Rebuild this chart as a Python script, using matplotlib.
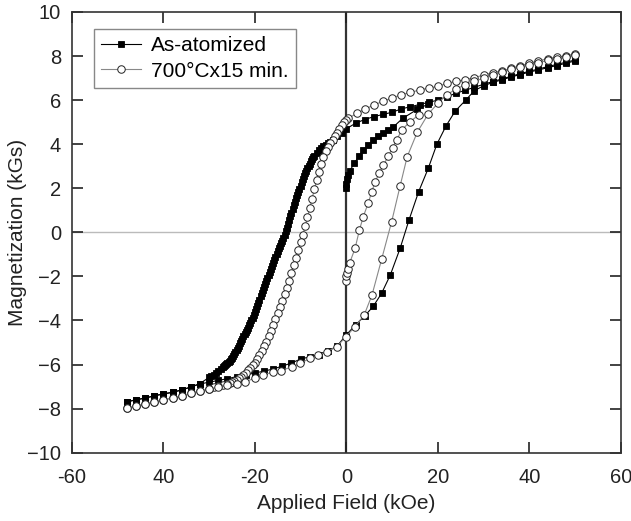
import matplotlib
matplotlib.use("Agg")
import matplotlib.pyplot as plt

plt.rcParams['font.family'] = ['Liberation Sans', 'DejaVu Sans']

# ---------------- As-atomized (filled squares) ----------------
sq_virgin_x = [0, 0, 0.2, 0.4, 0.8, 1.7, 2.8, 3.7, 4.8, 5.9, 7.0, 8.1, 9.2, 10.2, 12.3, 15.5, 17.9]
sq_virgin_y = [2.0, 2.2, 2.4, 2.6, 2.8, 3.13, 3.46, 3.74, 3.96, 4.19, 4.37, 4.52, 4.64, 4.77, 5.17, 5.58, 5.82]

sq_desc_x = [50, 48, 46, 44, 42, 40, 38, 36, 34, 32, 30, 28, 26, 24, 22, 20, 18, 16, 14, 12, 10, 8, 6, 4, 2, 0,
             -1, -2, -3, -3.5, -4, -4.5, -5, -5.5, -6, -6.5,
             -7, -7.25, -7.5, -7.75, -8, -8.25, -8.5, -8.75, -9, -9.25, -9.5, -9.75,
             -10, -10.25, -10.5, -10.75, -11, -11.25, -11.5, -11.75, -12, -12.25, -12.5, -12.75,
             -13, -13.25, -13.5, -13.75, -14, -14.25, -14.5, -14.75, -15, -15.25, -15.5, -15.75,
             -16, -16.25, -16.5, -16.75, -17, -17.25, -17.5, -17.75, -18, -18.25, -18.5, -18.75,
             -19, -19.25, -19.5, -19.75, -20, -20.25, -20.5, -20.75, -21, -21.25, -21.5, -21.75,
             -22, -22.25, -22.5, -22.75, -23, -23.25, -23.5, -23.75, -24, -24.25, -24.5, -24.75,
             -25, -25.25, -25.5, -25.75, -26, -26.25, -26.5, -26.75, -27,
             -27.5, -28, -28.5, -29, -29.5, -30, -32, -34, -36, -38, -40, -42, -44, -46, -48]
sq_desc_y = [7.82, 7.72, 7.62, 7.52, 7.41, 7.31, 7.2, 7.08, 6.96, 6.84, 6.72, 6.58, 6.45, 6.31, 6.16, 6.0, 5.9,
             5.8, 5.7, 5.6, 5.45, 5.35, 5.25, 5.12, 4.95, 4.7,
             4.5, 4.35, 4.2, 4.12, 4.05, 3.97, 3.9, 3.83, 3.75, 3.62,
             3.48, 3.40, 3.31, 3.22, 3.12, 3.02, 2.92, 2.80, 2.68, 2.55, 2.41, 2.27,
             2.12, 1.98, 1.84, 1.70, 1.55, 1.39, 1.23, 1.07, 0.9, 0.73, 0.55, 0.38,
             0.2, 0.05, -0.1, -0.24, -0.38, -0.49, -0.6, -0.72, -0.85, -0.98, -1.12, -1.26,
             -1.4, -1.54, -1.68, -1.82, -1.95, -2.08, -2.22, -2.36, -2.5, -2.63, -2.77, -2.91,
             -3.05, -3.19, -3.33, -3.48, -3.62, -3.75, -3.88, -4.0, -4.12, -4.22, -4.32, -4.42,
             -4.52, -4.62, -4.72, -4.82, -4.93, -5.03, -5.14, -5.24, -5.34, -5.44, -5.53, -5.62,
             -5.7, -5.76, -5.82, -5.88, -5.93, -5.98, -6.03, -6.08, -6.12,
             -6.21, -6.3, -6.39, -6.47, -6.53, -6.58, -6.86, -7.02, -7.15, -7.26, -7.33, -7.42, -7.52,
             -7.6, -7.69]

sq_asc_x = [-48, -46, -44, -42, -40, -38, -36, -34, -32, -30, -28, -26, -24, -22, -20, -18, -16, -14, -12,
            -10, -8, -6, -4, -2, 0, 2, 4, 5.9, 7.7, 9.6, 11.75, 13.7, 15.8, 17.9, 19.8, 21.8, 23.8, 26.1,
            28.0, 30, 32, 34, 36, 38, 40, 42, 44, 46, 48, 50]
sq_asc_y = [-7.69, -7.6, -7.52, -7.42, -7.33, -7.26, -7.15, -7.02, -6.88, -6.8, -6.72, -6.64, -6.55, -6.47,
            -6.38, -6.3, -6.2, -6.07, -5.93, -5.75, -5.65, -5.55, -5.4, -5.15, -4.65, -4.2, -3.8, -3.35,
            -2.77, -1.94, -0.73, 0.56, 1.84, 2.9, 4.0, 4.83, 5.5, 6.0, 6.43, 6.65, 6.8, 6.92, 7.05, 7.16,
            7.27, 7.37, 7.47, 7.57, 7.67, 7.78]

# ---------------- 700°C x 15 min (open circles) ----------------
ci_virgin_x = [0, 0, 0.1, 0.3, 0.7, 1.9, 2.85, 3.7, 4.8, 5.55, 6.3, 7.2, 8.1, 9.2, 10.1, 11.0, 12.1, 13.9, 15.8]
ci_virgin_y = [-2.2, -2.0, -1.85, -1.65, -1.4, -0.73, 0.1, 0.71, 1.34, 1.84, 2.3, 2.68, 3.05, 3.46, 3.85,
               4.19, 4.64, 5.02, 5.32]

ci_desc_x = [50, 48, 46, 44, 42, 40, 38, 36, 34, 32, 30, 28, 26, 24, 22, 20, 18, 16, 14, 12, 10, 8, 6, 4, 2.3,
             0.4, 0, -0.5, -1, -1.5, -2, -2.5, -3, -3.5, -4, -4.5, -5, -5.5, -6, -6.5, -7, -7.5, -8, -8.5,
             -9, -9.5, -10, -10.5, -11, -11.5, -12, -12.5, -13, -13.5, -14, -14.5, -15, -15.5, -16, -16.5,
             -17, -17.5, -18, -18.5, -19, -19.5, -20, -20.5, -21, -21.5, -22, -22.5, -23, -23.5, -24,
             -24.5, -25, -25.5, -26, -27, -28, -29, -30, -32, -34, -36, -38, -40, -42, -44, -46, -48]
ci_desc_y = [8.1, 8.0, 7.95, 7.88, 7.78, 7.67, 7.56, 7.44, 7.33, 7.24, 7.14, 7.02, 6.93, 6.85, 6.76, 6.62,
             6.55, 6.46, 6.35, 6.24, 6.1, 5.94, 5.78, 5.58, 5.4, 5.17, 5.1, 5.0, 4.87, 4.68, 4.52, 4.36,
             4.2, 4.05, 3.87, 3.67, 3.43, 3.1, 2.75, 2.36, 1.95, 1.53, 1.1, 0.69, 0.28, -0.1, -0.45, -0.82,
             -1.15, -1.5, -1.85, -2.2, -2.52, -2.82, -3.1, -3.38, -3.65, -3.93, -4.2, -4.48, -4.72, -4.97,
             -5.18, -5.4, -5.58, -5.76, -5.92, -6.03, -6.15, -6.26, -6.37, -6.48, -6.56, -6.63, -6.7,
             -6.76, -6.8, -6.84, -6.88, -6.94, -6.99, -7.04, -7.1, -7.22, -7.3, -7.42, -7.52, -7.6, -7.7,
             -7.79, -7.88, -7.98]

ci_asc_x = [-48, -46, -44, -42, -40, -38, -36, -34, -32, -30, -28, -26, -24, -22.2, -20, -18.2, -16, -14.2,
            -11.9, -10.1, -8, -6.1, -4.3, -2.1, -0.1, 1.9, 3.9, 5.6, 7.7, 9.9, 11.75, 13.3, 15.5, 17.9, 20,
            22, 24, 26, 28, 30, 32, 34, 36, 38, 40, 42, 44, 46, 48, 50]
ci_asc_y = [-7.98, -7.88, -7.79, -7.7, -7.6, -7.52, -7.42, -7.3, -7.22, -7.12, -7.02, -6.95, -6.87, -6.78,
            -6.62, -6.48, -6.33, -6.27, -6.1, -5.95, -5.72, -5.57, -5.42, -5.19, -4.74, -4.28, -3.75,
            -2.85, -1.23, 0.48, 2.1, 3.43, 4.54, 5.37, 5.85, 6.25, 6.5, 6.7, 6.85, 7.0, 7.15, 7.28, 7.4,
            7.5, 7.6, 7.7, 7.8, 7.88, 7.96, 8.05]

x_ticks = [-60, -40, -20, 0, 20, 40, 60]
x_tick_labels = ['-60', '40', '-20', '0', '20', '40', '60']
y_ticks = [-10, -8, -6, -4, -2, 0, 2, 4, 6, 8, 10]

fig = plt.figure(figsize=(6.31, 5.21), dpi=100)
ax = fig.add_axes([0.1141, 0.1311, 0.8696, 0.8459])

ax.axhline(0, color='#bbbbbb', lw=1.0, zorder=1)
ax.axvline(0, color='#333333', lw=1.6, zorder=1)

sq_kw = dict(color='black', lw=0.8, marker='s', ms=4.8, mfc='black', mec='black', mew=0.6, zorder=3)
ci_kw = dict(color='#888888', lw=0.8, marker='o', ms=5.4, mfc='white', mec='#222222', mew=0.7, zorder=4)

ax.plot(sq_virgin_x, sq_virgin_y, **sq_kw)
ax.plot(sq_desc_x, sq_desc_y, **sq_kw)
ax.plot(sq_asc_x, sq_asc_y, label='As-atomized', **sq_kw)
ax.plot(ci_virgin_x, ci_virgin_y, **ci_kw)
ax.plot(ci_desc_x, ci_desc_y, **ci_kw)
ax.plot(ci_asc_x, ci_asc_y, label='700°Cx15 min.', **ci_kw)

ax.set_xlim(-60, 60)
ax.set_ylim(-10, 10)
ax.set_xticks(x_ticks)
ax.set_xticklabels(x_tick_labels)
ax.set_yticks(y_ticks)
ax.tick_params(direction='in', length=8, width=1.2, top=True, right=True,
               labelsize=14.5, colors='#222222')
ax.tick_params(axis='x', pad=11)
ax.tick_params(axis='y', pad=8)
for s in ax.spines.values():
    s.set_linewidth(1.2)
    s.set_color('#333333')

ax.set_xlabel('Applied Field (kOe)', fontsize=15, color='#222222', labelpad=5)
ax.set_ylabel('Magnetization (kGs)', fontsize=15, color='#222222', labelpad=0)

leg = ax.legend(loc='upper left', bbox_to_anchor=(0.040, 0.9614), borderaxespad=0,
                fancybox=False, edgecolor='#888888', framealpha=1, fontsize=15,
                handlelength=1.9, handletextpad=0.5, borderpad=0.35, labelspacing=0.3)
leg.get_frame().set_linewidth(1.0)

fig.savefig('out.png', dpi=100)
